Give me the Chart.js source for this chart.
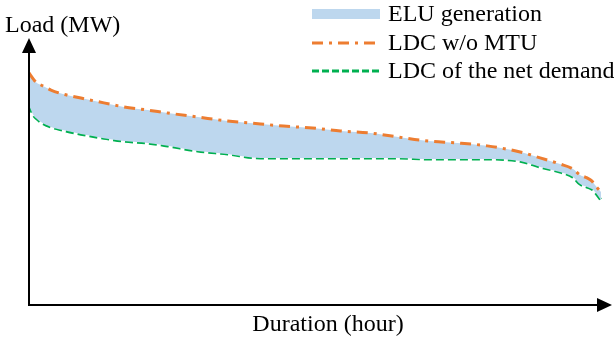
<!DOCTYPE html>
<html>
<head>
<meta charset="utf-8">
<script src="https://cdn.jsdelivr.net/npm/chart.js@4/dist/chart.umd.min.js"></script>
<style>
  html, body { margin: 0; padding: 0; background: #fff; }
  #wrap { width: 614px; height: 337px; }
</style>
</head>
<body>
<div id="wrap"><canvas id="ldc"></canvas></div>
<script>
// duration (hours) and loads (MW)
const hours = [0, 31, 76, 122, 183, 336, 520, 795, 1147, 1452, 1819, 2125, 2584, 3042, 3547, 3898,
  4342, 4770, 5228, 5657, 6115, 6559, 7017, 7522, 7827, 8133, 8332, 8439, 8546, 8622, 8668, 8760];
const ldcNoMtu = [870, 858, 843, 831, 824, 805, 790, 775, 757, 742, 730, 719, 704, 689, 678, 670,
  663, 652, 644, 629, 614, 607, 596, 573, 551, 528, 509, 487, 476, 464, 449, 423];
const ldcNet = [749, 730, 708, 697, 685, 667, 655, 640, 625, 614, 607, 596, 577, 566, 551, 551,
  551, 551, 551, 551, 547, 547, 547, 539, 517, 498, 479, 453, 442, 434, 423, 393];
const labels = ['ELU generation', 'LDC w/o MTU', 'LDC of the net demand'];

const FONT = '24px "Liberation Serif", "Times New Roman", serif';
const ORANGE = '#ED7D31';
const GREEN = '#00B050';
const FILL = '#BDD7EE';

const toPoints = ys => ys.map((y, i) => ({ x: hours[i], y: y }));

// axes with arrow heads, axis titles and the legend
const decor = {
    id: 'decor',
    afterDraw(chart) {
        const { ctx, chartArea: a } = chart;
        ctx.save();
        ctx.strokeStyle = '#000';
        ctx.fillStyle = '#000';
        ctx.lineWidth = 2;
        ctx.setLineDash([]);
        ctx.beginPath();
        ctx.moveTo(a.left, a.top + 10);
        ctx.lineTo(a.left, a.bottom);
        ctx.lineTo(a.right - 10, a.bottom);
        ctx.stroke();

        ctx.beginPath();
        ctx.moveTo(a.left, a.top);
        ctx.lineTo(a.left - 7, a.top + 15);
        ctx.lineTo(a.left + 7, a.top + 15);
        ctx.closePath();
        ctx.fill();

        ctx.beginPath();
        ctx.moveTo(a.right, a.bottom);
        ctx.lineTo(a.right - 15, a.bottom - 7);
        ctx.lineTo(a.right - 15, a.bottom + 7);
        ctx.closePath();
        ctx.fill();

        ctx.font = FONT;
        ctx.textBaseline = 'alphabetic';
        ctx.textAlign = 'left';
        ctx.fillText('Load (MW)', 5, 32);
        ctx.textAlign = 'center';
        ctx.fillText('Duration (hour)', 328, 331);

        // legend
        const x0 = 312, x1 = 380, rows = [14, 43, 71];
        ctx.textAlign = 'left';
        ctx.textBaseline = 'middle';
        ctx.fillStyle = FILL;
        ctx.fillRect(x0, rows[0] - 5, x1 - x0, 10);

        ctx.lineWidth = 3;
        ctx.strokeStyle = ORANGE;
        ctx.setLineDash([11, 6, 3, 6]);
        ctx.beginPath();
        ctx.moveTo(x0, rows[1]);
        ctx.lineTo(x1, rows[1]);
        ctx.stroke();

        ctx.strokeStyle = GREEN;
        ctx.setLineDash([7, 3]);
        ctx.beginPath();
        ctx.moveTo(x0, rows[2]);
        ctx.lineTo(x1, rows[2]);
        ctx.stroke();

        ctx.setLineDash([]);
        ctx.fillStyle = '#000';
        labels.forEach((t, i) => ctx.fillText(t, 388, rows[i] + 1));
        ctx.restore();
    }
};

new Chart(document.getElementById('ldc'), {
    type: 'line',
    data: {
        datasets: [
            {
                label: labels[1],
                data: toPoints(ldcNoMtu),
                borderColor: ORANGE,
                borderWidth: 3,
                borderDash: [11, 6, 3, 6],
                backgroundColor: FILL,
                fill: '+1',
                pointRadius: 0,
                cubicInterpolationMode: 'monotone'
            },
            {
                label: labels[2],
                data: toPoints(ldcNet),
                borderColor: GREEN,
                borderWidth: 3.2,
                borderDash: [8, 4],
                fill: false,
                pointRadius: 0,
                cubicInterpolationMode: 'monotone'
            }
        ]
    },
    options: {
        responsive: true,
        maintainAspectRatio: false,
        animation: false,
        layout: { padding: { left: 29, right: 2, top: 38, bottom: 32 } },
        plugins: {
            legend: { display: false },
            tooltip: { enabled: false }
        },
        scales: {
            x: { type: 'linear', min: 0, max: 8928, display: false },
            y: { type: 'linear', min: 0, max: 1000, display: false }
        }
    },
    plugins: [decor]
});
</script>
</body>
</html>
